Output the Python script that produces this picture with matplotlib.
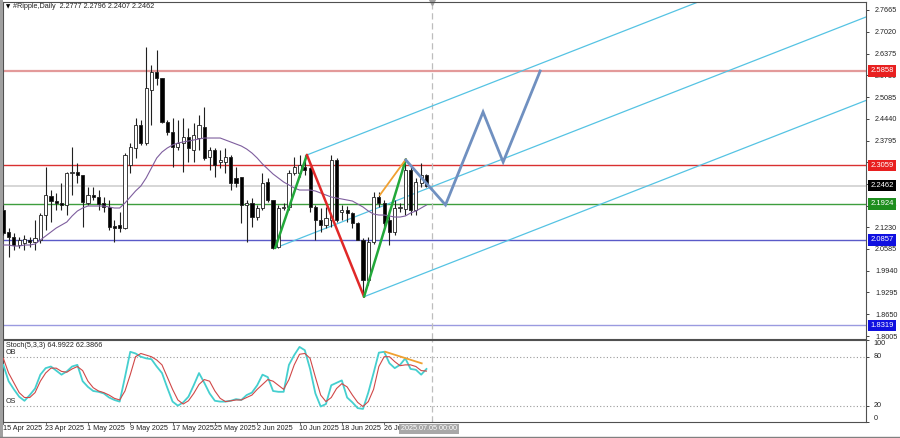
import matplotlib
matplotlib.use("Agg")
import matplotlib.pyplot as plt
import matplotlib.transforms as mtransforms

plt.rcParams['font.family'] = ['Liberation Sans', 'DejaVu Sans']

# ---------------- data ----------------
date_labels = ["15 Apr 2025", "23 Apr 2025", "1 May 2025", "9 May 2025", "17 May 2025",
               "25 May 2025", "2 Jun 2025", "10 Jun 2025", "18 Jun 2025", "26 Jun 2025"]
date_label_bars = [0, 8, 16, 24, 32, 40, 48, 56, 64, 72]

opens = [2.1739, 2.1087, 2.0939, 2.0702, 2.0761, 2.0850, 2.0791, 2.0850, 2.1590, 2.2153,
         2.2005, 2.1946, 2.1887, 2.2835, 2.2865, 2.2776, 2.1946, 2.2183, 2.2124, 2.1946,
         2.1828, 2.1265, 2.1294, 2.1205, 2.3072, 2.3576, 2.4257, 2.3724, 2.5294, 2.5828,
         2.5650, 2.4346, 2.4050, 2.3605, 2.3724, 2.3902, 2.3517, 2.3872, 2.4198, 2.3309,
         2.3517, 2.3161, 2.3161, 2.3309, 2.2687, 2.2717, 2.1887, 2.1946, 2.1531, 2.1798,
         2.2568, 2.2035, 2.0643, 2.1798, 2.1828, 2.2835, 2.2835, 2.3013, 2.2983, 2.1828,
         2.1442, 2.1294, 2.1442, 2.3220, 2.1679, 2.1739, 2.1650, 2.1353, 2.0850, 1.9665,
         2.0791, 2.2124, 2.1946, 2.1442, 2.1087, 2.1798, 2.1768, 2.2924, 2.1739, 2.2539, 2.2777]
highs = [2.1887, 2.1205, 2.1057, 2.0939, 2.0997, 2.0939, 2.1442, 2.1650, 2.3013, 2.2331,
         2.2242, 2.2539, 2.2865, 2.3605, 2.3131, 2.2776, 2.2420, 2.2420, 2.2331, 2.2124,
         2.2035, 2.1442, 2.1679, 2.3427, 2.3724, 2.4465, 2.4405, 2.6568, 2.6035, 2.6480,
         2.5650, 2.4405, 2.4465, 2.4405, 2.4465, 2.4168, 2.4316, 2.4553, 2.4791, 2.3605,
         2.3576, 2.3517, 2.3576, 2.3368, 2.3013, 2.2717, 2.2035, 2.2094, 2.1887, 2.2835,
         2.2687, 2.2035, 2.1887, 2.1946, 2.2924, 2.3309, 2.3368, 2.3368, 2.3013, 2.1887,
         2.1798, 2.1828, 2.3368, 2.3279, 2.1887, 2.1857, 2.1679, 2.1383, 2.0909, 2.0939,
         2.2272, 2.2272, 2.2035, 2.1739, 2.2035, 2.1946, 2.3279, 2.3013, 2.2687, 2.3131, 2.2796]
lows = [2.0997, 2.0346, 2.0554, 2.0613, 2.0554, 2.0643, 2.0554, 2.0761, 2.1146, 2.1383,
        2.1739, 2.1739, 2.1590, 2.2183, 2.2539, 2.1235, 2.1887, 2.2035, 2.1739, 2.1679,
        2.1146, 2.0791, 2.1087, 2.1176, 2.2835, 2.3279, 2.3665, 2.3665, 2.4257, 2.5442,
        2.4316, 2.3961, 2.3013, 2.3517, 2.2865, 2.3161, 2.3161, 2.3517, 2.3220, 2.2924,
        2.2717, 2.2983, 2.2835, 2.2331, 2.2420, 2.1353, 2.0791, 2.1235, 2.1442, 2.1739,
        2.1976, 2.0584, 2.0613, 2.1739, 2.1739, 2.2776, 2.2717, 2.2776, 2.1679, 2.0850,
        2.1087, 2.1205, 2.1235, 2.1383, 2.1442, 2.1383, 2.1205, 2.0850, 1.9161, 1.9517,
        2.0731, 2.1828, 2.1235, 2.0702, 2.0997, 2.1679, 2.1590, 2.1590, 2.1590, 2.2420, 2.2407]
closes = [2.1057, 2.0939, 2.0702, 2.0850, 2.0880, 2.0791, 2.0909, 2.1590, 2.2183, 2.2005,
          2.1946, 2.1887, 2.2835, 2.2865, 2.2776, 2.1976, 2.2183, 2.2124, 2.1916, 2.1828,
          2.1235, 2.1205, 2.1205, 2.3368, 2.3605, 2.4257, 2.3724, 2.5354, 2.5828, 2.5650,
          2.4346, 2.4050, 2.3605, 2.3724, 2.3902, 2.3576, 2.3961, 2.4257, 2.3279, 2.3517,
          2.3072, 2.3220, 2.3309, 2.2539, 2.2539, 2.1887, 2.1946, 2.1531, 2.1798, 2.2539,
          2.2035, 2.0613, 2.1798, 2.1828, 2.2835, 2.3013, 2.3072, 2.2924, 2.1828, 2.1442,
          2.1294, 2.1501, 2.3220, 2.1442, 2.1739, 2.1650, 2.1353, 2.0850, 1.9665, 2.0791,
          2.2124, 2.1946, 2.1353, 2.1087, 2.1798, 2.1828, 2.2924, 2.1739, 2.2568, 2.2776, 2.2462]

ma_values = [2.0702, 2.0702, 2.0672, 2.0672, 2.0702, 2.0702, 2.0731, 2.0850, 2.0968, 2.1087,
             2.1205, 2.1294, 2.1383, 2.1561, 2.1709, 2.1798, 2.1857, 2.1857, 2.1857, 2.1857,
             2.1828, 2.1798, 2.1798, 2.1946, 2.2124, 2.2302, 2.2450, 2.2687, 2.2983, 2.3279,
             2.3457, 2.3576, 2.3665, 2.3724, 2.3754, 2.3783, 2.3813, 2.3843, 2.3872, 2.3872,
             2.3872, 2.3872, 2.3813, 2.3754, 2.3694, 2.3635, 2.3546, 2.3428, 2.3279, 2.3102,
             2.2954, 2.2805, 2.2687, 2.2568, 2.2480, 2.2391, 2.2331, 2.2331, 2.2331, 2.2302,
             2.2242, 2.2183, 2.2124, 2.2094, 2.2065, 2.2035, 2.2005, 2.1916, 2.1828, 2.1709,
             2.1620, 2.1590, 2.1590, 2.1561, 2.1531, 2.1531, 2.1561, 2.1650, 2.1709, 2.1798, 2.1887]

stoch_k = [70, 50, 40, 31, 26, 33, 41, 58, 66, 68,
           63, 58, 62, 68, 70, 50, 43, 38, 37, 35,
           30, 27, 25, 55, 86, 84, 80, 78, 77, 68,
           60, 42, 25, 20, 24, 31, 45, 60, 48, 35,
           26, 25, 25, 26, 28, 27, 33, 36, 45, 58,
           55, 38, 37, 37, 70, 82, 92, 88, 65, 35,
           19, 22, 45, 48, 51, 30, 24, 17, 16, 36,
           60, 85, 86, 72, 66, 70, 78, 65, 64, 58, 65]
stoch_d = [78, 60, 48, 36, 30, 30, 36, 50, 60, 66,
           66, 62, 61, 65, 68, 63, 50, 42, 38, 36,
           33, 29, 27, 38, 58, 80, 84, 82, 80, 76,
           70, 55, 40, 27, 22, 26, 35, 46, 52, 50,
           38, 29, 25, 26, 27, 27, 30, 33, 40, 46,
           52, 50, 45, 40, 52, 70, 83, 84, 78, 55,
           33, 25, 30, 41, 47, 43, 33, 24, 19, 25,
           40, 68, 80, 80, 74, 69, 70, 70, 68, 63, 62.4]
stoch_header = "Stoch(5,3,3) 64.9922 62.3866"
title_text = "#Ripple,Daily  2.2777 2.2796 2.2407 2.2462"

# horizontal levels: price, line colour, label background
level_prices = [2.5858, 2.3059, 2.1924, 2.0857, 1.8319]
level_colors = ["#E39A9A", "#D93030", "#3E9E3E", "#5A5AC8", "#9A9AE0"]
level_widths = [1.6, 1.0, 1.0, 1.0, 1.0]
level_label_bg = ["#E82020", "#E82020", "#1E8E1E", "#1010E0", "#1010E0"]
current_price = 2.2462

price_ticks = [2.7665, 2.7020, 2.6375, 2.5730, 2.5085, 2.4440, 2.3795, 2.3150, 2.2505,
               2.1860, 2.1230, 2.0585, 1.9940, 1.9295, 1.8650, 1.8005]
stoch_ticks = [100, 80, 20, 0]

# analyst drawings (bar index, price)
zigzag_bars = [51.4, 57.4, 68.2, 76.1]
zigzag_prices = [2.0613, 2.3370, 1.9170, 2.3240]
zigzag_colors = ["#22A83A", "#E02828", "#22A83A"]
orange_bars = [71.2, 76.1]
orange_prices = [2.2184, 2.3240]
proj_bars = [76.1, 83.6, 90.7, 94.5, 101.5]
proj_prices = [2.3220, 2.1890, 2.4643, 2.3161, 2.5858]
chan_bars = [57.4, 51.4, 68.2]
chan_prices = [2.3370, 2.0613, 1.9170]
chan_slope = 0.006128  # price per bar
stoch_div_bars = [72.2, 79.1]
stoch_div_vals = [86.1, 71.9]
cursor_bar = 81
cursor_label = "2025.07.05 00:00"

# ---------------- figure ----------------
W, H = 900, 438
fig = plt.figure(figsize=(W / 100, H / 100), dpi=100)
fig.patch.set_facecolor("white")

def fx(px):
    return px / W

def fy(py):
    return 1 - py / H

ax = fig.add_axes([fx(3), fy(339), fx(866) - fx(3), fy(2) - fy(339)])
ax2 = fig.add_axes([fx(3), fy(422), fx(866) - fx(3), fy(340.4) - fy(422)])

xmin, xmax = -0.06, 163.1
ax.set_xlim(xmin, xmax)
ax.set_ylim(1.7917, 2.7902)
ax2.set_xlim(xmin, xmax)
ax2.set_ylim(0, 100)

for a in (ax, ax2):
    for s in a.spines.values():
        s.set_color("#505050")
        s.set_linewidth(0.8)
    a.set_xticks([])

FS = 5.2
TC = "#222222"
# price axis
ax.yaxis.tick_right()
ax.set_yticks(price_ticks)
ax.set_yticklabels([f"{p:.4f}" for p in price_ticks], fontsize=FS)
ax.tick_params(axis="y", direction="out", length=2.5, width=0.6, pad=4, colors=TC)

# stochastic axis: ticks + labels kept inside the panel like the terminal does
ax2.yaxis.tick_right()
ax2.set_yticks(stoch_ticks)
ax2.set_yticklabels([])
ax2.tick_params(axis="y", direction="out", length=2.5, width=0.6, colors=TC)
strans = mtransforms.blended_transform_factory(ax2.transAxes, ax2.transData)
for v in stoch_ticks:
    va = "top" if v == 100 else ("bottom" if v == 0 else "center")
    ax2.text(1.0085, v, str(v), transform=strans, fontsize=FS, color=TC, ha="left",
             va=va, clip_on=False)

# horizontal levels
for p, c, w in zip(level_prices, level_colors, level_widths):
    ax.axhline(p, color=c, lw=w, zorder=1)
ax.axhline(current_price, color="#CFCFCF", lw=1.2, zorder=1)

# candles
n = len(closes)
xs = list(range(n))
ax.vlines(xs, lows, highs, color="#202020", lw=0.8, zorder=3)
for i in xs:
    o, c = opens[i], closes[i]
    bottom = min(o, c)
    h = max(abs(c - o), 0.0018)
    face = "white" if c >= o else "black"
    ax.bar(i, h, bottom=bottom, width=0.6, color=face, edgecolor="#202020",
           linewidth=0.6, zorder=4)

# moving average
ax.plot(xs, ma_values, color="#7E5E9E", lw=0.8, zorder=5)

# channel lines
for b0, p0 in zip(chan_bars, chan_prices):
    ax.plot([b0, xmax], [p0, p0 + chan_slope * (xmax - b0)], color="#55C3E3",
            lw=0.9, zorder=2)

# zigzag
for k in range(3):
    ax.plot(zigzag_bars[k:k + 2], zigzag_prices[k:k + 2], color=zigzag_colors[k],
            lw=1.8, zorder=6, solid_capstyle="round")
ax.plot(orange_bars, orange_prices, color="#F0A030", lw=1.3, zorder=6)
ax.plot(proj_bars, proj_prices, color="#7090C0", lw=2.0, zorder=6,
        solid_joinstyle="miter")

# cursor line
ax.axvline(cursor_bar, color="#BDBDBD", lw=0.9, ls=(0, (5, 3)), zorder=1)
ax2.axvline(cursor_bar, color="#BDBDBD", lw=0.9, ls=(0, (5, 3)), zorder=1)
ax.plot([cursor_bar], [1.0], marker="v", ms=4, color="#A0A0A0", clip_on=False,
        transform=mtransforms.blended_transform_factory(ax.transData, ax.transAxes))

# level labels on price axis
trans = mtransforms.blended_transform_factory(ax.transAxes, ax.transData)
for p, bg in zip(level_prices + [current_price], level_label_bg + ["black"]):
    ax.text(1.0055, p, f"{p:.4f}", transform=trans, fontsize=5.5, color="white",
            ha="left", va="center", zorder=10, clip_on=False,
            bbox=dict(boxstyle="square,pad=0.3", fc=bg, ec="none"))

# stochastic
ax2.axhline(80, color="#9A9A9A", lw=0.8, ls=(0, (1, 2)))
ax2.axhline(20, color="#9A9A9A", lw=0.8, ls=(0, (1, 2)))
ax2.plot(xs, stoch_k, color="#45CFCF", lw=1.3, zorder=4)
ax2.plot(xs, stoch_d, color="#D04848", lw=0.8, zorder=5)
ax2.plot(stoch_div_bars, stoch_div_vals, color="#F0A030", lw=1.3, zorder=6)

ax2.text(0.003, 0.985, stoch_header, transform=ax2.transAxes, fontsize=FS, color=TC,
         va="top", ha="left")
ax2.text(0.003, 80.5, "OB", transform=strans, fontsize=FS, color=TC, va="bottom", ha="left")
ax2.text(0.003, 20.5, "OS", transform=strans, fontsize=FS, color=TC, va="bottom", ha="left")

# date labels
dtrans = mtransforms.blended_transform_factory(ax2.transData, fig.transFigure)
for b, lab in zip(date_label_bars, date_labels):
    ax2.text(b - 0.1, fy(429), lab, transform=dtrans, fontsize=FS, color=TC,
             ha="left", va="center", clip_on=False)
    ax2.plot([b, b], [0, -2.5], color="#505050", lw=0.6, clip_on=False)
ax2.text(cursor_bar - 0.5, fy(429), cursor_label, transform=dtrans, fontsize=FS,
         color="white", ha="center", va="center", clip_on=False, zorder=10,
         bbox=dict(boxstyle="square,pad=0.25", fc="#A8A8A8", ec="none"))

# title
fig.text(fx(6), fy(7), "\u25BC", fontsize=4, color="black", va="center", ha="left",
         family="DejaVu Sans")
fig.text(fx(13), fy(7), title_text, fontsize=FS, color=TC, va="center", ha="left")

# window borders
fig.add_artist(plt.Rectangle((0, 0), fx(2.5), 1, transform=fig.transFigure,
                             fc="#A0A0A0", ec="none"))
fig.add_artist(plt.Line2D([0, 1], [fy(437), fy(437)], transform=fig.transFigure,
                          color="#808080", lw=1))

fig.savefig("out.png", dpi=100, facecolor="white")
